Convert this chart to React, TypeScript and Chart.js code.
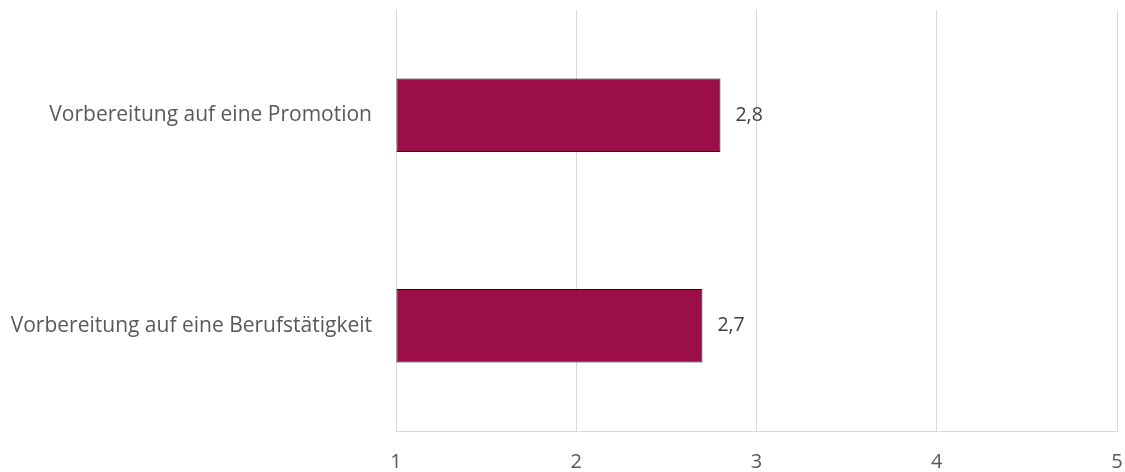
import React, { useEffect, useRef } from "react";
import { Chart, registerables } from "chart.js";

Chart.register(...registerables);

const categories: string[] = [
  "Vorbereitung auf eine Promotion",
  "Vorbereitung auf eine Berufstätigkeit",
];
const values: number[] = [2.8, 2.7];
const xTicks: number[] = [1, 2, 3, 4, 5];

const FONT = "'Open Sans', sans-serif";

const dataLabelPlugin = {
  id: "dataLabels",
  afterDatasetsDraw(chart: any) {
    const ctx = chart.ctx;
    const meta = chart.getDatasetMeta(0);
    ctx.save();
    ctx.font = `19.5px ${FONT}`;
    ctx.fillStyle = "#404040";
    ctx.textAlign = "left";
    ctx.textBaseline = "middle";
    meta.data.forEach((el: any, i: number) => {
      const v = chart.data.datasets[0].data[i] as number;
      ctx.fillText(v.toFixed(1).replace(".", ","), el.x + 15, el.y);
    });
    ctx.restore();
  },
};

export default function App() {
  const ref = useRef<HTMLCanvasElement | null>(null);
  useEffect(() => {
    document.body.style.margin = "0";
    const chart = new Chart(ref.current as HTMLCanvasElement, {
      type: "bar",
      data: {
        labels: categories,
        datasets: [
          {
            data: values,
            base: 1,
            backgroundColor: "#9B0E47",
            borderColor: "#111111",
            borderWidth: 1,
            borderSkipped: false,
            categoryPercentage: 0.7,
            barPercentage: 0.5,
          },
        ],
      },
      options: {
        indexAxis: "y",
        animation: false,
        responsive: false,
        maintainAspectRatio: false,
        layout: { padding: { top: 10, right: 8, left: 0, bottom: 0 } },
        plugins: { legend: { display: false }, tooltip: { enabled: false } },
        scales: {
          x: {
            min: 1,
            max: 5,
            afterBuildTicks(scale: any) {
              scale.ticks = xTicks.map((v) => ({ value: v }));
            },
            afterFit(scale: any) {
              scale.height = 41;
              scale.paddingLeft = 0;
              scale.paddingRight = 0;
              scale.paddingTop = 0;
              scale.paddingBottom = 0;
            },
            grid: { color: "#d9d9d9", drawTicks: false, lineWidth: 1 },
            border: { display: true, color: "#d9d9d9" },
            ticks: {
              color: "#595959",
              font: { family: FONT, size: 20 },
              padding: 19,
              maxRotation: 0,
            },
          },
          y: {
            afterFit(scale: any) {
              scale.width = 396;
              scale.paddingLeft = 0;
              scale.paddingRight = 0;
              scale.paddingTop = 0;
              scale.paddingBottom = 0;
            },
            grid: { display: false, drawTicks: false },
            border: { display: false },
            ticks: {
              color: "#595959",
              font: { family: FONT, size: 21 },
              padding: 24,
            },
          },
        },
      },
      plugins: [dataLabelPlugin],
    });
    return () => chart.destroy();
  }, []);
  return (
    <div style={{ width: 1125, height: 472 }}>
      <canvas ref={ref} width={1125} height={472} />
    </div>
  );
}
